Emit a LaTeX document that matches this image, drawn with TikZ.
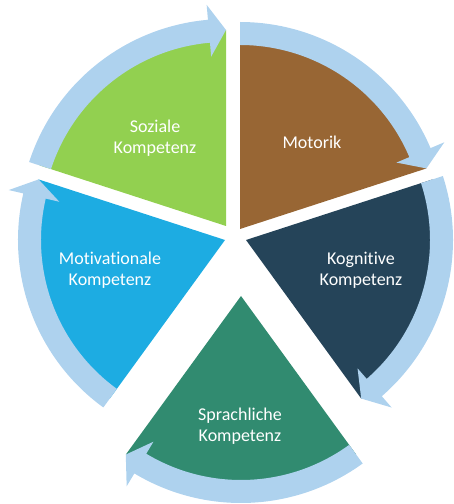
\documentclass[tikz,border=0pt]{standalone}
\usepackage{fontspec}
\setmainfont[Ligatures={NoCommon}]{Carlito}
\usepackage{tikz}
\usepackage{xcolor}

\definecolor{colMotorik}{RGB}{152,102,52}
\definecolor{colKognitiv}{RGB}{37,68,89}
\definecolor{colSprache}{RGB}{49,139,112}
\definecolor{colMotivation}{RGB}{29,172,226}
\definecolor{colSozial}{RGB}{146,208,80}
\definecolor{arrowblue}{RGB}{174,210,238}

\begin{document}
\begin{tikzpicture}[x=1pt, y=1pt]

    % Define style for different elements
    \tikzstyle{cyclearrow} = [fill=arrowblue, draw=none]
    \tikzstyle{segtext} = [text=white, align=center, font=\fontsize{18}{21}\selectfont]

    \useasboundingbox (0,0) rectangle (454,504);

    % Draw segments (apex x/y, start angle, end angle, colour)
    \foreach \ax/\ay/\s/\e/\c in {240/275/90/18/colMotorik, 246/264/18/-54/colKognitiv, 241/208/-54/-126/colSprache, 225/264/-126/-198/colMotivation, 226/278/162/90/colSozial}
    {
        \fill[\c] (\ax,\ay) -- ++(\s:196pt) arc[start angle=\s, end angle=\e, radius=196pt] -- cycle;
    }

    % Draw arrows round the segments
    \foreach \ax/\ay/\s/\e in {240/275/90/18, 246/264/18/-54, 241/208/-54/-126, 225/264/-126/-198, 226/278/162/90}
    {
        \begin{scope}[shift={(\ax,\ay)}]
            \fill[cyclearrow] (\s:184pt) arc[start angle=\s, end angle=\e+5, radius=184pt]
                -- (\e+5:170pt) -- (\e:196pt) -- (\e+5:222pt) -- (\e+5:207pt)
                arc[start angle=\e+5, end angle=\s, radius=207pt] -- cycle;
        \end{scope}
    }

    % Place labels
    \node (motorik) [segtext] at (312,362) {Motorik};
    \node (kognitiv) [segtext] at (361,234) {Kognitive\\Kompetenz};
    \node (sprache) [segtext] at (240,78) {Sprachliche\\Kompetenz};
    \node (motivation) [segtext] at (110,234) {Motivationale\\Kompetenz};
    \node (sozial) [segtext] at (155,366) {Soziale\\Kompetenz};

\end{tikzpicture}
\end{document}
